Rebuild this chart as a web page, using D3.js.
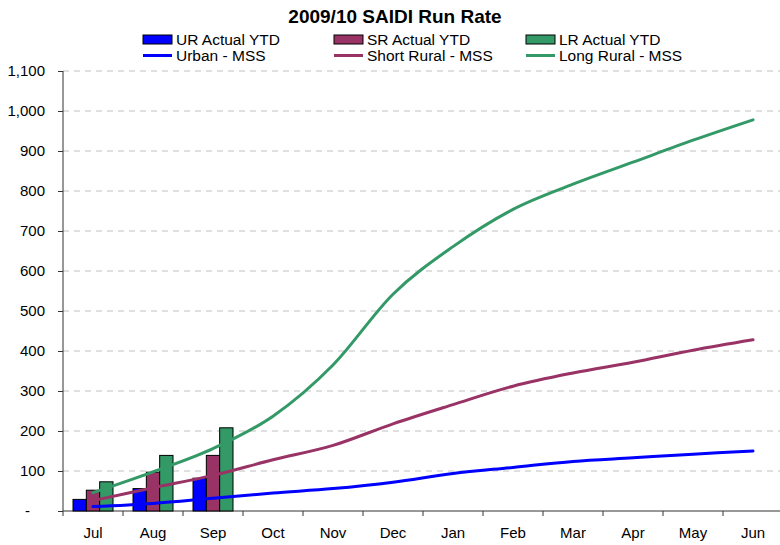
<!DOCTYPE html>
<html>
<head>
<meta charset="utf-8">
<script src="https://cdn.jsdelivr.net/npm/d3@7"></script>
<style>
  body { margin: 0; background: #fff; }
  svg { font-family: "Liberation Sans", Arial, sans-serif; }
</style>
</head>
<body>
<svg id="chart" width="780" height="545"></svg>
<script>
// data
const months = ["Jul", "Aug", "Sep", "Oct", "Nov", "Dec", "Jan", "Feb", "Mar", "Apr", "May", "Jun"];
const yTicks = [0, 100, 200, 300, 400, 500, 600, 700, 800, 900, 1000, 1100];

const urActual = [29, 56, 82];
const srActual = [52, 97, 139];
const lrActual = [73, 139, 208];

const urbanMSS = [11, 19, 32, 45, 56, 72, 94, 109, 124, 133, 142, 150];
const shortRuralMSS = [26, 58, 89, 128, 164, 218, 266, 312, 345, 372, 402, 428];
const longRuralMSS = [46, 98, 156, 237, 365, 542, 661, 754, 817, 872, 927, 978];

const blue = "#0000ff", maroon = "#993366", green = "#339966";

const svg = d3.select("#chart");
const plotL = 63, plotR = 783, plotT = 71, plotB = 511;

const x0 = d3.scaleBand().domain(months).range([plotL, plotR]);
const x1 = d3.scaleBand().domain(["ur", "sr", "lr"])
    .range([0, x0.bandwidth()]).paddingOuter(0.75);
const y = d3.scaleLinear().domain([0, 1100]).range([plotB, plotT]);

// title
svg.append("text")
    .attr("x", 395).attr("y", 23)
    .attr("text-anchor", "middle")
    .style("font-size", "19px").style("font-weight", "bold")
    .text("2009/10 SAIDI Run Rate");

// gridlines
svg.append("g").selectAll("line")
    .data(yTicks.filter(d => d > 0))
    .join("line")
    .attr("x1", plotL).attr("x2", 780)
    .attr("y1", d => y(d)).attr("y2", d => y(d))
    .attr("stroke", "#c0c0c0")
    .attr("stroke-dasharray", "6,5");

// y axis
const yAxis = svg.append("g")
    .attr("transform", `translate(${plotL},0)`)
    .call(d3.axisLeft(y).tickValues(yTicks).tickSize(5).tickPadding(13)
        .tickFormat(d => d === 0 ? "-" : d3.format(",")(d)));
yAxis.select(".domain").attr("stroke", "#333").attr("d", `M0,${plotT}V${plotB}`);
yAxis.selectAll(".tick line").attr("stroke", "#333");
yAxis.selectAll("text").style("font-size", "15px").attr("fill", "#000")
    .attr("font-family", "Liberation Sans, Arial, sans-serif");
yAxis.selectAll(".tick").filter(d => d === 0).select("text").attr("dx", -15);

// x axis
const xAxis = svg.append("g")
    .attr("transform", `translate(0,${plotB})`)
    .call(d3.axisBottom(x0).tickSize(0).tickPadding(16));
xAxis.select(".domain").attr("stroke", "#333").attr("d", `M${plotL},0H${plotR}`);
xAxis.selectAll("text").style("font-size", "15px").attr("fill", "#000")
    .attr("font-family", "Liberation Sans, Arial, sans-serif");
xAxis.selectAll(".sep")
    .data(months)
    .join("line")
    .attr("class", "sep")
    .attr("x1", d => x0(d)).attr("x2", d => x0(d))
    .attr("y1", 0).attr("y2", 5)
    .attr("stroke", "#333");

// bars
const barSeries = [
  { key: "ur", values: urActual, color: blue },
  { key: "sr", values: srActual, color: maroon },
  { key: "lr", values: lrActual, color: green }
];
barSeries.forEach(s => {
  svg.append("g").selectAll("rect")
      .data(s.values)
      .join("rect")
      .attr("x", (d, i) => x0(months[i]) + x1(s.key))
      .attr("width", x1.bandwidth())
      .attr("y", d => y(d))
      .attr("height", d => y(0) - y(d))
      .attr("fill", s.color)
      .attr("stroke", "#000")
      .attr("stroke-width", 1);
});

// smoothed lines
const line = d3.line()
    .x((d, i) => x0(months[i]) + x0.bandwidth() / 2)
    .y(d => y(d))
    .curve(d3.curveCatmullRom.alpha(0));

[
  { values: urbanMSS, color: blue },
  { values: shortRuralMSS, color: maroon },
  { values: longRuralMSS, color: green }
].forEach(s => {
  svg.append("path")
      .datum(s.values)
      .attr("d", line)
      .attr("fill", "none")
      .attr("stroke", s.color)
      .attr("stroke-width", 3)
      .attr("stroke-linecap", "round");
});

// legend
const legend = [
  { label: "UR Actual YTD", color: blue, type: "bar", x: 143, row: 0 },
  { label: "SR Actual YTD", color: maroon, type: "bar", x: 334, row: 0 },
  { label: "LR Actual YTD", color: green, type: "bar", x: 526, row: 0 },
  { label: "Urban - MSS", color: blue, type: "line", x: 143, row: 1 },
  { label: "Short Rural - MSS", color: maroon, type: "line", x: 334, row: 1 },
  { label: "Long Rural - MSS", color: green, type: "line", x: 526, row: 1 }
];
const lg = svg.append("g").selectAll("g")
    .data(legend)
    .join("g")
    .attr("transform", d => `translate(${d.x},${d.row ? 55.5 : 39.5})`);
lg.filter(d => d.type === "bar").append("rect")
    .attr("x", 0).attr("y", -4.5).attr("width", 29).attr("height", 9)
    .attr("fill", d => d.color).attr("stroke", "#000");
lg.filter(d => d.type === "line").append("line")
    .attr("x1", 0).attr("x2", 29).attr("y1", 0).attr("y2", 0)
    .attr("stroke", d => d.color).attr("stroke-width", 3);
lg.append("text")
    .attr("x", 33).attr("y", 5.5)
    .style("font-size", "15.5px")
    .text(d => d.label);
</script>
</body>
</html>
